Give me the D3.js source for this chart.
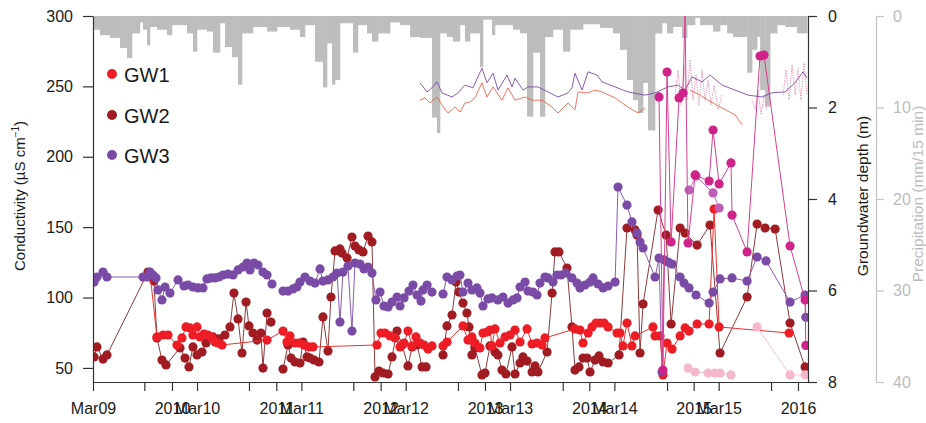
<!DOCTYPE html>
<html><head><meta charset="utf-8">
<script src="https://cdn.jsdelivr.net/npm/d3@7/dist/d3.min.js"></script>
<style>
body{margin:0;background:#fff}
svg{display:block}
text{font-family:"Liberation Sans",Arial,Helvetica,sans-serif}
</style></head>
<body><svg id="c" width="926" height="423"></svg>
<script>
// ---------------- DATA ----------------
// x values are decimal years
const xTickVals   = [2009.243, 2010, 2010.24, 2011, 2011.24, 2012, 2012.24, 2013, 2013.24, 2014, 2014.24, 2015, 2015.24, 2016];
const xTickLabels = ["Mar09","2010","Mar10","2011","Mar11","2012","Mar12","2013","Mar13","2014","Mar14","2015","Mar15","2016"];
const xMinorTicks = [2009.735, 2010.738, 2011.738, 2012.741, 2013.745, 2014.745, 2015.742];
const condTicks   = [50, 100, 150, 200, 250, 300];
const depthTicks  = [0, 2, 4, 6, 8];
const precipTicks = [0, 10, 20, 30, 40];
const seriesNames = ["GW1", "GW2", "GW3"];

// Conductivity (µS/cm) : [decimal year, value]; null = break in line
const gw1 = [[2009.789,117.4],[2009.856,72],[2009.914,73.4],[2009.962,73.4],[2010.048,66.3],[2010.096,71.3],[2010.134,79.1],[2010.172,78.4],[2010.201,73.4],[2010.240,79.1],[2010.269,72],[2010.307,74.1],[2010.345,73.4],[2010.383,71.3],[2010.412,68.4],[2010.441,67.7],[2010.479,66.3],[2010.911,69.8],[2011.064,76.2],[2011.102,68.4],[2011.131,72.7],[2011.179,67.7],[2011.217,67.7],[2011.265,66.3],[2011.313,64.9],[2011.352,64.9],[2011.965,66.3],[2012.003,74.8],[2012.042,74.8],[2012.090,72.7],[2012.138,71.3],[2012.186,64.9],[2012.224,67.7],[2012.262,76.2],[2012.301,65.6],[2012.339,72],[2012.377,67.7],[2012.416,66.3],[2012.454,63.4],[2012.492,65.6],
null,
[2012.598,65.6],[2012.636,68.4],[2012.789,79.8],[2012.837,69.8],[2012.875,72],[2012.904,67.7],[2012.952,64.2],[2012.981,74.8],[2013.019,75.5],[2013.048,76.9],[2013.067,65.6],[2013.096,77.7],[2013.144,67.7],[2013.192,72],[2013.240,73.4],[2013.288,76.9],[2013.336,68.4],[2013.403,77.7],[2013.451,67],[2013.499,67.7],[2013.547,66.3],[2013.575,71.3],[2013.863,77.7],[2013.911,76.9],[2013.940,67.7],[2013.988,74.8],[2014.026,79.1],[2014.065,81.9],[2014.103,81.9],[2014.141,81.9],[2014.180,79.1],[2014.266,74.8],[2014.294,74.8],[2014.323,65.6],[2014.361,81.9],[2014.409,65.6],[2014.438,72.7],[2014.610,79.1],[2014.630,72.7],[2014.678,72.7],[2014.706,45],[2014.745,67.7],[2014.793,63.4],[2014.870,72.7],[2014.918,78.4],[2014.956,76.2],[2015.033,81.2],[2015.148,81.2],[2015.196,162.9],[2015.244,79.1],[2015.915,74.8]];

const gw2 = [[2009.253,57.8],[2009.281,64.9],[2009.339,56.3],[2009.377,59.2],[2009.770,118.1],[2009.808,116],[2009.827,111.7],[2009.856,71.3],[2009.904,55.6],[2009.943,52.1],[2010.077,64.2],[2010.125,57],[2010.163,50.7],[2010.201,64.9],[2010.240,59.2],[2010.288,61.3],[2010.326,67.7],[2010.393,72],[2010.450,70.6],[2010.508,73.4],[2010.556,79.1],[2010.594,103.2],[2010.633,84.8],[2010.671,60.6],[2010.710,96.8],[2010.738,79.8],[2010.776,74.8],[2010.815,69.8],[2010.853,74.8],[2010.872,49.9],[2010.911,89],[2010.949,82.6],
null,
[2011.064,49.2],[2011.112,66.3],[2011.141,57],[2011.179,54.2],[2011.227,53.5],[2011.256,68.4],[2011.294,57.8],[2011.323,57],[2011.361,55.6],[2011.409,54.2],[2011.447,86.2],[2011.495,62],[2011.524,100.4],[2011.563,133.1],[2011.610,134.5],[2011.630,131.6],[2011.678,128.1],[2011.725,143],[2011.754,136.6],[2011.792,133.8],[2011.831,132.4],[2011.879,143.7],[2011.917,139.5],[2011.946,43.6],[2011.984,47.8],[2012.023,46.4],[2012.071,45.7],[2012.109,57.8],[2012.157,76.2],[2012.205,66.3],[2012.262,51.4],[2012.301,64.9],[2012.349,66.3],[2012.397,50.7],[2012.435,50.7],
null,
[2012.598,59.2],[2012.636,79.8],[2012.684,87.6],[2012.723,111],[2012.751,103.9],[2012.789,96.1],[2012.827,89],[2012.847,79.1],[2012.875,59.2],[2012.904,64.2],[2012.971,45],[2013.000,46.4],[2013.048,65.6],[2013.096,61.3],[2013.124,59.2],[2013.163,48.5],[2013.201,45.7],[2013.259,64.9],[2013.288,45.7],[2013.336,53.5],[2013.364,57.8],[2013.403,54.9],[2013.451,47.1],[2013.480,51.4],[2013.508,47.1],[2013.595,61.3],[2013.643,103.2],[2013.671,132.4],[2013.709,132.4],[2013.786,121],[2013.834,79.1],[2013.863,48.5],[2013.901,50.7],[2013.940,57],[2013.978,57],[2014.007,47.1],[2014.055,55.6],[2014.093,58.5],[2014.132,54.2],[2014.180,53.5],[2014.285,59.2],[2014.361,149.4],[2014.438,148],[2014.457,144.4],[2014.486,60.6],[2014.515,95.4],[2014.659,162.2],[2014.736,144.4],[2014.784,81.2],[2014.870,149.4],[2014.918,145.8],[2015.033,137.3],[2015.157,151.5],[2015.253,60.6],[2015.512,100.4],[2015.608,152.2],[2015.685,149.4],[2015.781,148.7],[2015.924,81.9],[2016.068,50.7]];

const gw3 = [[2009.253,111],[2009.281,114.6],[2009.339,118.1],[2009.377,114.6],[2009.722,114.6],[2009.761,114.6],[2009.789,118.1],[2009.818,116],[2009.847,113.9],[2009.866,105.4],[2009.904,98.3],[2009.933,107.5],[2009.981,103.2],[2010.058,112.5],[2010.115,108.2],[2010.153,108.9],[2010.201,107.5],[2010.249,106.8],[2010.297,106.8],[2010.335,113.2],[2010.374,113.9],[2010.412,113.9],[2010.450,114.6],[2010.489,116],[2010.537,116.7],[2010.585,116],[2010.633,119.6],[2010.681,121.7],[2010.719,124.5],[2010.748,119.6],[2010.786,124.5],[2010.824,123.1],[2010.872,118.1],[2010.911,116],[2010.959,109.6],
null,
[2011.064,104.6],[2011.112,104.6],[2011.160,106.1],[2011.198,107.5],[2011.227,111],[2011.275,114.6],[2011.323,111.7],[2011.371,110.3],[2011.419,120.3],[2011.447,111.7],[2011.495,112.5],[2011.543,114.6],[2011.582,117.4],[2011.610,82.6],[2011.639,118.1],[2011.687,122.4],[2011.725,76.2],[2011.754,124.5],[2011.802,123.8],[2011.840,120.3],[2011.879,121.7],[2011.917,117.4],[2011.955,98.3],[2011.994,103.9],[2012.032,94],[2012.071,93.3],[2012.109,96.8],[2012.157,100.4],[2012.186,94],[2012.224,99.7],[2012.272,104.6],[2012.310,108.9],[2012.349,101.8],[2012.387,97.5],[2012.406,105.4],[2012.445,108.9],[2012.492,103.9],
null,
[2012.598,102.5],[2012.636,114.6],[2012.684,112.5],[2012.732,115.3],[2012.760,116],[2012.789,103.9],[2012.837,110.3],[2012.875,105.4],[2012.923,106.8],[2012.952,103.2],[2012.981,94],[2013.029,99],[2013.067,99.7],[2013.124,98.3],[2013.172,100.4],[2013.221,96.1],[2013.269,98.3],[2013.307,99.7],[2013.336,107.5],[2013.384,111],[2013.412,104.6],[2013.460,103.9],[2013.499,101.8],[2013.527,110.3],[2013.575,114.6],[2013.604,113.9],[2013.652,111],[2013.690,116],[2013.729,116],[2013.776,117.4],[2013.834,113.9],[2013.882,110.3],[2013.911,106.8],[2013.959,108.9],[2014.007,111],[2014.036,113.9],[2014.084,109.6],[2014.132,106.8],[2014.180,108.2],[2014.247,111],[2014.275,178.5],[2014.361,165.7],[2014.409,153.7],[2014.457,145.8],[2014.486,139.5],[2014.515,135.2],[2014.630,114.6],[2014.668,128.1],[2014.697,47.1],[2014.716,126.7],[2014.755,125.2],[2014.793,123.8],[2014.870,114.6],[2014.908,110.3],[2014.956,106.8],[2015.023,101.8],[2015.148,96.1],[2015.186,103.9],[2015.253,113.2],[2015.368,113.9],[2015.512,111.7],[2015.608,128.8],[2015.694,126],[2015.924,96.8],[2016.068,101.8],[2016.075,86]];

// additional wells (not in legend)
const gw4 = [[2014.668,242.5],[2014.706,48.5],[2014.745,260.2],[2014.784,139.5],[2014.860,241.8],[2014.898,245.3],[2014.917,304],[2014.946,138.7],[2015.014,187.1],[2015.148,182.8],[2015.186,219],[2015.244,180.7],[2015.358,195.6],[2015.368,158.6],[2015.512,132.4],[2015.636,271.6],[2015.674,272.3],[2015.924,136.6],[2016.068,98.3],[2016.075,66]];
const gw5 = [[2014.946,49.9],[2015.014,47.1],[2015.138,46.4],[2015.205,46.4],[2015.253,46.4],[2015.358,45],null,[2015.608,79.1],[2015.924,45],[2016.068,45]];
const gw6 = [[2014.956,176.4],[2015.023,186.3],[2015.186,174.3],[2015.244,163.6]];

// Groundwater depth (m)
const depthGW3 = [[2012.377,1.46],[2012.444,1.66],[2012.492,1.57],[2012.540,1.44],[2012.588,1.68],[2012.684,1.77],[2012.742,1.68],[2012.808,1.51],[2012.885,1.57],[2012.971,1.14],[2013.019,1.46],[2013.077,1.25],[2013.125,1.62],[2013.211,1.29],[2013.259,1.55],[2013.288,1.36],[2013.365,1.62],[2013.412,1.55],[2013.508,1.55],[2013.604,1.66],[2013.700,1.77],[2013.796,1.68],[2013.834,1.57],[2013.863,1.25],[2013.930,1.62],[2013.988,1.22],[2014.074,1.29],[2014.122,1.44],[2014.246,1.55],[2014.371,1.66],[2014.534,1.73],[2014.630,1.68],[2014.755,1.55],[2014.851,1.51],[2014.917,1.62],[2014.985,1.33],[2015.081,1.44],[2015.158,1.29],[2015.272,1.51],[2015.397,1.62],[2015.522,1.73],[2015.655,1.77],[2015.751,1.68],[2015.876,1.66],[2015.972,1.46],[2016.048,1.22],[2016.087,1.36]];
const depthGW1 = [[2012.377,1.84],[2012.425,1.79],[2012.473,1.90],[2012.540,1.77],[2012.588,1.95],[2012.646,2.12],[2012.713,1.99],[2012.761,2.10],[2012.808,1.90],[2012.856,1.88],[2012.904,1.79],[2012.971,1.46],[2013.019,1.77],[2013.077,1.55],[2013.163,1.84],[2013.221,1.57],[2013.288,1.84],[2013.384,1.77],[2013.451,1.84],[2013.547,1.84],[2013.643,1.99],[2013.700,2.12],[2013.796,1.90],[2013.863,2.05],[2013.892,1.66],[2013.988,1.68],[2014.055,1.62],[2014.122,1.66],[2014.246,1.79],[2014.371,1.99],[2014.467,2.12],[2014.534,2.01],null,[2014.965,1.62],[2015.062,1.73],[2015.138,1.84],[2015.272,2.01],[2015.397,2.16],[2015.464,2.38]];
const depthPink = [[2014.822,1.73],[2014.850,1.18],[2014.879,1.95],[2014.908,1.07],[2014.936,1.84],[2014.965,0.96],[2014.994,1.84],[2015.023,1.29],[2015.051,1.95],[2015.080,1.18],[2015.109,1.84],[2015.138,1.40],[2015.167,1.95],[2015.196,1.51],[2015.234,2.05],[2015.272,1.73],null,[2015.560,1.84],[2015.589,2.05],[2015.617,1.62],[2015.646,2.16],[2015.675,1.73],[2015.704,2.05],null,[2015.857,1.73],[2015.886,1.18],[2015.914,1.84],[2015.943,1.07],[2015.972,1.73],[2016.000,1.14],[2016.029,1.84],[2016.058,1.01],[2016.087,1.73]];

// Precipitation (mm/15 min): start of each interval and value
const precipYear = [2009.243,2009.310,2009.406,2009.502,2009.569,2009.617,2009.693,2009.722,2009.761,2009.789,2009.856,2009.952,2010.000,2010.144,2010.201,2010.240,2010.335,2010.393,2010.460,2010.508,2010.575,2010.633,2010.671,2010.776,2010.911,2011.006,2011.131,2011.227,2011.275,2011.371,2011.447,2011.486,2011.534,2011.563,2011.610,2011.735,2011.783,2011.869,2011.917,2011.975,2012.090,2012.186,2012.282,2012.377,2012.492,2012.540,2012.569,2012.636,2012.693,2012.760,2012.808,2012.856,2012.952,2012.981,2013.067,2013.096,2013.268,2013.336,2013.403,2013.460,2013.527,2013.575,2013.652,2013.748,2013.815,2013.940,2014.103,2014.227,2014.294,2014.361,2014.419,2014.467,2014.515,2014.563,2014.630,2014.697,2014.745,2014.802,2014.889,2014.937,2015.014,2015.062,2015.186,2015.253,2015.321,2015.378,2015.513,2015.560,2015.608,2015.637,2015.685,2015.733,2015.800,2015.877,2015.992];
const precipMM   = [1.5,2.1,2.4,3.5,4.6,1.9,0.7,1.5,3.2,1.2,1.5,2.1,1.0,1.9,3.9,1.5,1.7,4.0,0.8,3.4,4.5,7.5,1.9,1.2,1.7,1.2,1.5,2.3,1.0,5.0,7.8,3.0,7.5,7.0,0.8,4.0,1.0,1.9,2.8,1.9,0.7,1.0,2.3,2.4,11.1,12.8,1.9,2.3,2.8,1.0,2.8,1.9,5.6,0.4,2.1,1.0,1.5,1.9,11.0,4.0,11.0,2.3,1.5,3.9,1.5,0.9,1.3,1.9,3.7,7.0,9.2,10.6,7.3,12.5,1.9,0.8,1.9,1.2,2.4,1.0,0.2,1.0,1.7,1.0,1.9,2.3,6.2,3.7,2.3,8.1,9.9,1.9,1.0,1.2,1.9];
const precipEnd = 2016.088;

// ---------------- CHART ----------------
const L = 93, R = 808, T = 16, B = 382;
const svg = d3.select("#c");
const x  = d3.scaleLinear().domain([2009.243, 2016.096]).range([L, R]);
const yC = d3.scaleLinear().domain([40, 300]).range([B, T]);
const yD = d3.scaleLinear().domain([0, 8]).range([T, B]);
const yP = d3.scaleLinear().domain([0, 40]).range([T, B]);

svg.append("defs").append("clipPath").attr("id","clip")
  .append("rect").attr("x",L).attr("y",T).attr("width",R-L).attr("height",B-T);

const COL = {gw1:"#ee1d25", gw2:"#a01c22", gw3:"#7a4ba6", gw4:"#d0238a", gw5:"#f5b7ca", gw6:"#bf5cb6"};

// precipitation bars (hanging from top)
const pg = svg.append("g").attr("clip-path","url(#clip)");
pg.selectAll("rect").data(precipMM).join("rect")
  .attr("x",(d,i)=>x(precipYear[i]))
  .attr("width",(d,i)=>x(i+1<precipYear.length?precipYear[i+1]:precipEnd)-x(precipYear[i])+0.3)
  .attr("y",yP(0))
  .attr("height",d=>yP(d)-yP(0))
  .attr("fill","#bdbdbd");

// groundwater depth lines
const dg = svg.append("g").attr("clip-path","url(#clip)");
const dLine = d3.line().defined(d=>d!==null).x(d=>x(d[0])).y(d=>yD(d[1]));
dg.append("path").datum(depthPink).attr("d",dLine).attr("fill","none")
  .attr("stroke","#ef8fb2").attr("stroke-width",1).attr("stroke-dasharray","1.2,1.2");
dg.append("path").datum(depthGW1).attr("d",dLine).attr("fill","none")
  .attr("stroke","#f0503a").attr("stroke-width",0.8);
dg.append("path").datum(depthGW3).attr("d",dLine).attr("fill","none")
  .attr("stroke","#7a4ba6").attr("stroke-width",0.9);

// conductivity series
const cg = svg.append("g").attr("clip-path","url(#clip)");
const cLine = d3.line().defined(d=>d!==null).x(d=>x(d[0])).y(d=>yC(d[1]));
function drawSeries(data, fill, stroke){
  cg.append("path").datum(data).attr("d",cLine).attr("fill","none")
    .attr("stroke",stroke).attr("stroke-width",1);
  cg.append("g").selectAll("circle").data(data.filter(d=>d!==null)).join("circle")
    .attr("cx",d=>x(d[0])).attr("cy",d=>yC(d[1])).attr("r",4.6).attr("fill",fill);
}
drawSeries(gw2, COL.gw2, "#8e3a3a");
drawSeries(gw1, COL.gw1, "#ee3030");
drawSeries(gw3, COL.gw3, "#8a5cb3");
drawSeries(gw5, COL.gw5, "#f6c2d2");
drawSeries(gw6, COL.gw6, "#c46cbc");
drawSeries(gw4, COL.gw4, "#d8408f");

// axes
const FS = "16px";
const ax = svg.append("g").attr("transform",`translate(${L},0)`)
  .call(d3.axisLeft(yC).tickValues(condTicks).tickSize(10).tickSizeOuter(0).tickPadding(10));
const xa = svg.append("g").attr("transform",`translate(0,${B})`)
  .call(d3.axisBottom(x).tickValues(xTickVals).tickFormat((d,i)=>xTickLabels[i]).tickSize(9).tickSizeOuter(0).tickPadding(12));
const xm = svg.append("g").attr("transform",`translate(0,${B})`)
  .call(d3.axisBottom(x).tickValues(xMinorTicks).tickFormat("").tickSize(9).tickSizeOuter(0));
xm.select(".domain").remove();
const ra = svg.append("g").attr("transform",`translate(${R},0)`)
  .call(d3.axisRight(yD).tickValues(depthTicks).tickSize(9).tickSizeOuter(0).tickPadding(11));
const pa = svg.append("g").attr("transform",`translate(876,0)`)
  .call(d3.axisRight(yP).tickValues(precipTicks).tickSize(8).tickSizeOuter(0).tickPadding(9));

[ax, xa, xm, ra].forEach(g=>{
  g.selectAll("path,line").attr("stroke","#333").attr("stroke-width",1.2);
  g.selectAll("text").attr("font-size",FS).attr("fill","#1a1a1a").style("font-family",'"Liberation Sans",Arial,sans-serif');
});
pa.selectAll("path,line").attr("stroke","#c4c4c4").attr("stroke-width",1.2);
pa.selectAll("text").attr("font-size",FS).attr("fill","#bcbcbc").style("font-family",'"Liberation Sans",Arial,sans-serif');

// axis titles
const t1 = svg.append("text").attr("transform","translate(25,196) rotate(-90)")
  .attr("text-anchor","middle").attr("font-size","15px").attr("fill","#1a1a1a");
t1.append("tspan").text("Conductivity (µS cm");
t1.append("tspan").text("−1").attr("font-size","10px").attr("dy","-6");
t1.append("tspan").text(")").attr("dy","6");

svg.append("text").attr("transform","translate(868,196) rotate(-90)")
  .attr("text-anchor","middle").attr("font-size","15.5px").attr("fill","#1a1a1a")
  .text("Groundwater depth (m)");
svg.append("text").attr("transform","translate(923,194) rotate(-90)")
  .attr("text-anchor","middle").attr("font-size","15.5px").attr("fill","#bdbdbd")
  .text("Precipitation (mm/15 min)");

// legend
const lg = svg.append("g");
const legCols = [COL.gw1, COL.gw2, COL.gw3];
const legY = [74, 115, 155];
seriesNames.forEach((n,i)=>{
  lg.append("circle").attr("cx",112).attr("cy",legY[i]).attr("r",5).attr("fill",legCols[i]);
  lg.append("text").attr("x",124).attr("y",legY[i]+7.5).attr("font-size","20px").attr("fill","#1a1a1a").text(n);
});
</script>
</body></html>
